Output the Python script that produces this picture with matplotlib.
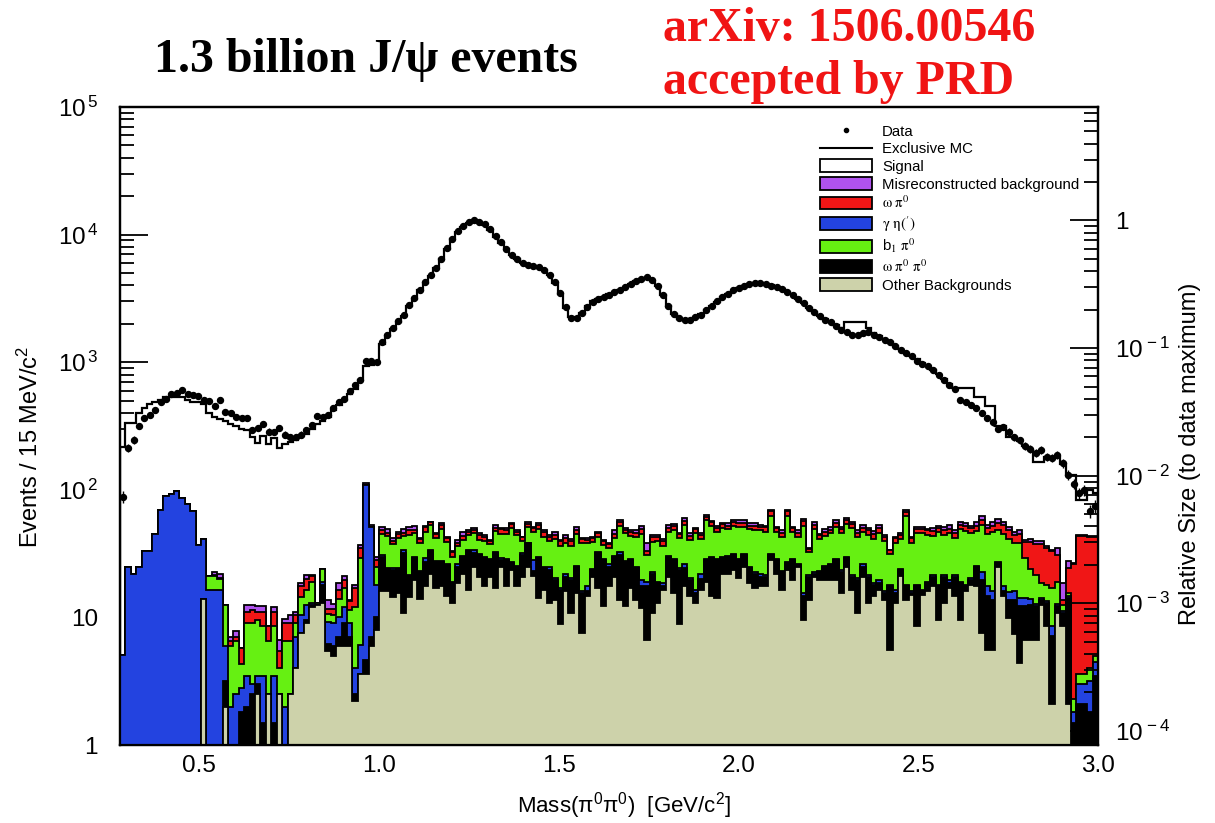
import numpy as np
import matplotlib.pyplot as plt
from matplotlib.patches import Patch
from matplotlib.lines import Line2D
from matplotlib.ticker import FixedLocator, FixedFormatter, MultipleLocator, NullFormatter

plt.rcParams['font.family'] = ['Liberation Sans', 'DejaVu Sans']
plt.rcParams['mathtext.fontset'] = 'stix'

# 15 MeV bins over the pi0 pi0 mass range
n_bins = 181
edges = np.linspace(0.28, 3.0, n_bins + 1)
centers = 0.5 * (edges[1:] + edges[:-1])

data = np.array([
    88, 214, 246, 317, 367, 388, 425, 491, 515, 565,
    578, 607, 565, 556, 546, 510, 500, 457, 510, 410,
    400, 373, 367, 367, 296, 307, 330, 286, 285, 307,
    270, 260, 260, 270, 296, 324, 376, 373, 388, 439,
    491, 515, 598, 665, 730, 1015, 1030, 1000, 1450, 1640,
    1860, 2090, 2350, 2820, 3200, 3700, 4270, 4800, 5500, 6480,
    7800, 9300, 10600, 11600, 12500, 12900, 12500, 12000, 11000, 9700,
    8700, 7770, 6950, 6450, 6000, 5820, 5710, 5540, 5310, 4850,
    4230, 3490, 2700, 2210, 2210, 2430, 2700, 2950, 3130, 3240,
    3390, 3540, 3710, 3890, 4130, 4300, 4490, 4660, 4370, 3980,
    3390, 2770, 2400, 2210, 2130, 2150, 2260, 2360, 2550, 2770,
    3000, 3240, 3440, 3660, 3810, 3980, 4130, 4170, 4170, 4070,
    3980, 3890, 3750, 3540, 3390, 3130, 2910, 2660, 2460, 2290,
    2150, 2050, 1930, 1800, 1710, 1640, 1640, 1690, 1710, 1640,
    1580, 1500, 1430, 1330, 1250, 1180, 1110, 1030, 973, 927,
    863, 800, 730, 667, 617, 508, 484, 464, 437, 398,
    364, 337, 299, 310, 286, 259, 244, 221, 209, 196,
    206, 182, 178, 188, 162, 131, 112, 94, 100, 68,
    75])

mc_total = np.array([
    215, 335, 335, 400, 440, 473, 490, 510, 530, 530,
    530, 530, 510, 490, 490, 470, 400, 370, 360, 345,
    330, 315, 300, 296, 260, 234, 263, 228, 256, 214,
    228, 239, 245, 263, 275, 300, 330, 344, 370, 420,
    460, 510, 560, 620, 720, 930, 950, 990, 1400, 1600,
    1820, 2050, 2300, 2750, 3150, 3650, 4200, 4750, 5450, 6400,
    7700, 9200, 10500, 11500, 12400, 12800, 12500, 11900, 10900, 9600,
    8600, 7700, 6900, 6400, 6000, 5800, 5650, 5500, 5250, 4800,
    4150, 3400, 2650, 2250, 2250, 2450, 2750, 3000, 3150, 3250,
    3400, 3550, 3700, 3900, 4100, 4300, 4500, 4600, 4350, 3950,
    3350, 2750, 2380, 2200, 2150, 2150, 2250, 2380, 2550, 2750,
    2980, 3220, 3420, 3620, 3800, 3950, 4100, 4150, 4150, 4100,
    4000, 3900, 3750, 3550, 3400, 3150, 2930, 2680, 2480, 2300,
    2170, 2070, 1950, 1850, 2050, 2050, 2050, 2050, 1850, 1700,
    1600, 1520, 1440, 1350, 1270, 1190, 1120, 1050, 985, 940,
    875, 810, 740, 675, 625, 627, 627, 627, 537, 537,
    450, 450, 315, 315, 258, 258, 240, 220, 205, 166,
    166, 180, 178, 180, 160, 131, 131, 83, 83, 100,
    95])

# background components per bin: other, omega pi0 pi0, gamma eta('), b1 pi0, omega pi0, misreconstructed
bkg_rows = [
    (0, 0, 5.1, 0, 0, 0), (0, 0, 25, 0, 0, 0), (0, 0, 22, 0, 0, 0), (0, 0, 25, 0, 0, 0),
    (0, 0, 33, 0, 0, 0), (0, 0, 33, 0, 0, 0), (0, 0, 45, 0, 0, 0), (0, 0, 70, 0, 0, 0),
    (0, 0, 89, 0, 0, 0), (0, 0, 92, 0, 0, 0), (0, 0, 98, 0, 0, 0), (0, 0, 86, 0, 0, 0),
    (0, 0, 77, 0, 0, 0), (0, 0, 68, 0, 0, 0), (0, 0, 37, 0, 0, 0), (14, 0, 27, 0, 0, 0),
    (0, 0, 16.5, 4.5, 0, 0), (0, 0, 16.5, 4.5, 0.5, 1), (0, 0, 16.5, 3.5, 0.5, 1.5),
    (2, 1.2, 2.8, 6.4, 0, 0), (0, 1, 1, 4, 0.5, 0.5), (0, 0.5, 2, 4, 0.5, 0.8),
    (0.3, 1.5, 1, 1.5, 1.5, 0), (0, 2, 1.5, 5.5, 2, 1.4), (0, 2.5, 0.5, 6, 2.5, 1),
    (2.5, 0.5, 0.5, 6, 1.5, 1.2), (0, 1.5, 2, 5, 2.5, 1.2), (2.5, 0, 0, 4, 2, 0),
    (0.5, 1, 2, 5, 2.5, 1), (2.5, 0, 0, 1.5, 1.5, 1.2), (0, 1, 1, 4.5, 2.5, 0.8),
    (2.5, 0, 0, 4, 2.5, 1.5), (4, 0, 3, 2, 1.5, 0.5), (7.5, 0, 3, 4, 3, 1),
    (9, 0.5, 3, 4, 3.5, 1.5), (12, 0.5, 0.5, 6, 2, 0.5), (12.5, 0, 0, 0.5, 0, 0),
    (13, 5, 1, 4.8, 0, 0), (5.5, 0.7, 3, 1.5, 1, 2), (5, 1, 3, 1.5, 1.2, 1),
    (6, 1, 3, 4, 2.5, 2), (6, 3, 3, 5, 2.5, 1.5), (6, 1, 2, 2.5, 2, 0.2),
    (2.2, 0.3, 1.5, 8, 5, 1), (3.6, 0, 2.5, 23, 6, 2), (3.6, 1, 105, 0, 0, 3),
    (6, 1, 44, 0, 0, 2), (8, 2, 8, 7, 3, 2),
    (16, 14, 1, 14, 3, 3), (16, 8, 0.5, 19, 2.5, 3), (14.5, 9, 1, 13, 2, 2.5),
    (15.5, 8.5, 0.5, 17.5, 3, 2), (10.8, 21.2, 1.5, 10, 2, 3.5), (14.5, 6.5, 0.5, 23, 3.5, 3),
    (19.5, 9.5, 1, 16, 2, 4), (14, 8.5, 0.5, 15, 3, 1), (17.5, 9.5, 2, 18, 4, 1),
    (22, 11, 0.5, 19.5, 2.5, 0.5), (17, 10, 0.5, 14.5, 3, 1), (17.5, 9.5, 0.5, 22, 3.5, 2),
    (14.6, 11.1, 0.5, 12.8, 3, 1), (12.9, 5.7, 0.5, 10.9, 2.5, 0.5), (18.6, 6.4, 1, 10, 2.5, 2),
    (22, 8, 0.5, 10, 3, 3.5), (16.5, 16.5, 0.5, 11, 2.5, 1), (25, 7, 2, 11.5, 3, 1.5),
    (20.8, 10.2, 0.5, 9, 3.5, 2), (17.5, 11.5, 0.5, 10.5, 3, 1), (20.8, 7.2, 0.5, 9, 2.5, 0.5),
    (17, 15, 0.5, 15, 3, 2.5), (25, 3, 1, 16, 4, 1), (17.5, 10.5, 0.5, 16.5, 3, 2),
    (23.5, 3, 0.5, 23, 3.5, 1.5), (17.5, 7.5, 0.5, 19, 2.5, 1), (20.8, 10.2, 1, 8, 2.5, 0.5),
    (25, 13, 0.5, 12.5, 3, 2), (21, 2, 5, 19, 3, 1), (14.2, 14.8, 0.5, 20, 3.5, 2),
    (16.5, 7.7, 0.5, 18.3, 4, 1), (12.9, 10.6, 1.5, 14.5, 3, 1.5), (13.7, 6, 0.5, 20.8, 3.5, 2.5),
    (8.9, 7.6, 0.5, 19.5, 3, 1), (16, 4.8, 1, 16.2, 4, 2), (10.8, 8.9, 0.5, 16.3, 3.5, 1),
    (15.5, 9.5, 0.5, 19.5, 3, 3), (7.5, 8, 0.5, 22, 3, 1), (14.6, 1.4, 1.5, 20.5, 2.5, 1.5),
    (20.8, 2.7, 0.5, 15, 3, 1), (17, 15, 0.5, 10.5, 2.5, 1.5), (12.2, 15.8, 0.5, 8.5, 3, 0.5),
    (17.5, 7.5, 1, 9, 2.5, 0.5), (20.8, 9.2, 0.5, 11.5, 3, 3), (13.7, 17.3, 1.5, 20, 3.5, 2),
    (12.2, 15.1, 0.5, 17.7, 3, 1.5), (17, 11, 0.5, 15, 3.5, 1), (13.7, 10.5, 0.5, 18.3, 3, 2),
    (11.9, 5.6, 2, 25.5, 4, 3), (6.7, 10.8, 1.5, 12, 2, 5), (10.8, 11.2, 0.5, 16.5, 3.5, 1.5),
    (12.9, 5.7, 0.5, 20.9, 3, 1), (16.5, 1, 1, 18, 3, 1.5), (20.8, 9.2, 0.5, 16.5, 3, 3),
    (15.5, 12.5, 0.5, 19.5, 4, 2), (8.9, 14.6, 1, 17.5, 3, 1), (17.5, 6.7, 2, 26.8, 4, 3),
    (14.6, 5.1, 0.5, 20.3, 3, 2.5), (12.9, 2.6, 1, 29, 3.5, 1), (16.5, 3.5, 2, 19.5, 3, 1.5),
    (19.1, 8.9, 0.5, 29, 4, 2.5), (14.6, 14.7, 0.5, 22.7, 3.5, 1), (14.2, 13.8, 0.5, 18.5, 3, 2),
    (22, 7.3, 0.5, 20.7, 3.5, 1), (22, 8, 0.5, 19, 3, 2.5), (23.5, 7.5, 0.5, 21, 3.5, 2),
    (20.2, 7.8, 0.5, 22.5, 4, 3), (25, 6, 0.5, 20, 3, 3.5), (18.6, 5.6, 0.5, 24.3, 3.5, 2.5),
    (17, 5, 0.5, 25.5, 4, 3), (17.5, 3.3, 1, 26.2, 3, 2), (17.5, 3.3, 0.5, 25.7, 4, 1),
    (28, 3, 0.5, 30.5, 6, 2), (22, 6, 0.5, 18.5, 3, 1), (16.5, 6.2, 0.5, 19.8, 3, 2),
    (23.5, 3, 0.5, 35.5, 6, 1.5), (19.7, 8.3, 0.5, 18.5, 3, 1), (25, 0.7, 0.5, 16.8, 2.5, 2.5),
    (9.6, 5, 1, 36.9, 4, 2.5), (13.7, 7.1, 0.5, 11.2, 2, 0.5), (20.8, 1.2, 0.5, 26.5, 4, 3),
    (19.7, 3, 0.5, 17.8, 3, 1), (19.7, 5.3, 0.5, 18, 3.5, 2), (19.7, 6, 0.5, 19.3, 3, 2.5),
    (19.7, 8.3, 0.5, 22.5, 4, 3), (15.5, 7.2, 1, 22.3, 3.5, 1.5), (25, 4.3, 0.5, 24.2, 4, 2),
    (16.5, 4.3, 0.5, 29.2, 3, 2.5), (10.8, 8.9, 0.5, 22.3, 3.5, 2), (20.8, 4.2, 1, 21, 3, 3),
    (12.9, 7.9, 0.5, 23.2, 4, 1.5), (14.6, 3.4, 0.5, 23, 3.5, 2.5), (16.5, 2.1, 1, 26.4, 4, 3),
    (13.7, 1.8, 0.5, 23.5, 3, 1.5), (5.6, 11.9, 0.5, 13.5, 2, 0.5), (13, 2.5, 1, 22, 3.5, 1),
    (21, 2.5, 0.5, 17, 3, 2), (13.7, 3.8, 0.5, 44, 5, 3), (15, 0.5, 0.5, 22, 4, 1),
    (8.5, 9, 0.5, 27.5, 3.5, 2), (15, 1, 0.5, 29, 4, 1.5), (16, 2.6, 0.5, 25.4, 3.5, 1),
    (17.5, 3.3, 0.5, 22.2, 4, 2.5), (9.6, 7.9, 0.5, 29, 3, 2), (12.9, 7.9, 0.5, 22.7, 4, 3),
    (17, 1.6, 1, 26.4, 3.5, 3.5), (14.6, 6.2, 0.5, 20.7, 4, 2), (9.6, 9, 0.5, 29.9, 4, 3),
    (16, 1.5, 0.5, 29.5, 4.5, 3), (18, 1.7, 0.5, 25.8, 4, 2), (17.5, 7.5, 0.5, 22, 5, 3.5),
    (7.5, 12.2, 3, 30.3, 5, 4), (5.6, 9, 3, 27.4, 5, 3), (5.6, 8.1, 2.5, 30.3, 6, 3.5),
    (25, 1.5, 0.5, 21, 7, 4), (14.6, 1.4, 1.5, 27.5, 8, 3), (9.9, 3.8, 2, 25.3, 7, 3),
    (7.4, 6.3, 2.5, 21.8, 6, 3), (4.4, 7.8, 2, 23.8, 7, 3), (6.7, 5.5, 2, 14.8, 10, 1.5),
    (6.7, 5.8, 1.5, 10, 15, 2), (6.7, 5.5, 0.5, 8.8, 16, 2.5), (12.5, 1.2, 0.5, 4.3, 19, 2),
    (8.5, 4.4, 0.5, 4.6, 17, 1), (2.1, 5, 1.5, 8.4, 16, 1), (10.8, 1.4, 0.5, 6.3, 12, 4),
    (8.5, 2.3, 0.5, 1.3, 1, 5), (2.1, 12, 0.5, 1, 9, 3), (0, 1.5, 0.3, 0.5, 24, 0.3),
    (0, 2.1, 0.9, 0.6, 40, 0.4), (0, 2.1, 0.9, 0.6, 40, 0.6), (0, 1.8, 1.4, 0.8, 39, 0.5),
    (0, 3.5, 1, 0.5, 38, 0.5),
]
bkg = np.array(bkg_rows, dtype=float).T
other, omega_pi0pi0, gamma_eta, b1_pi0, omega_pi0, misrec = bkg

bkg_labels = ['Other Backgrounds', r'$\mathrm{\omega\ \pi^{0}\ \pi^{0}}$', r"$\mathrm{\gamma\ \eta(')}$",
              r'b$_{1}$ $\mathrm{\pi^{0}}$', r'$\mathrm{\omega\ \pi^{0}}$', 'Misreconstructed background']
bkg_colors = ['#cdd2aa', '#000000', '#2343e0', '#66f012', '#f01616', '#b052ee']

W, H = 1215, 823
fig = plt.figure(figsize=(W / 100, H / 100), dpi=100)
ax = fig.add_axes([120 / W, 1 - 745 / H, (1098 - 120) / W, (745 - 107) / H])

ax.set_yscale('log')
ax.set_xlim(0.28, 3.0)
ax.set_ylim(1, 1e5)

floor = 0.05
# signal + backgrounds: total exclusive MC drawn as the white top layer
ax.stairs(np.maximum(mc_total, floor), edges, baseline=floor, fill=True,
          facecolor='white', edgecolor='black', lw=1.6, zorder=2)
cum = np.cumsum(bkg, axis=0)
for k in range(len(bkg) - 1, -1, -1):
    ax.stairs(np.maximum(cum[k], floor), edges, baseline=floor, fill=True,
              facecolor=bkg_colors[k], edgecolor='black', lw=1.3, zorder=3)

ax.errorbar(centers, data, yerr=np.sqrt(data), fmt='o', color='black', ms=4.3,
            elinewidth=1, capsize=0, zorder=5)

# axes styling
for s in ax.spines.values():
    s.set_linewidth(1.6)
ax.yaxis.set_major_locator(FixedLocator([1, 10, 1e2, 1e3, 1e4, 1e5]))
ax.yaxis.set_major_formatter(FixedFormatter(['1', '10', r'$\mathregular{10^{\,2}}$',
                                             r'$\mathregular{10^{\,3}}$', r'$\mathregular{10^{\,4}}$',
                                             r'$\mathregular{10^{\,5}}$']))
minor_y = [m * 10 ** d for d in range(0, 5) for m in range(2, 10)]
ax.yaxis.set_minor_locator(FixedLocator(minor_y))
ax.yaxis.set_minor_formatter(NullFormatter())
ax.xaxis.set_major_locator(FixedLocator([0.5, 1.0, 1.5, 2.0, 2.5, 3.0]))
ax.xaxis.set_major_formatter(FixedFormatter(['0.5', '1.0', '1.5', '2.0', '2.5', '3.0']))
ax.xaxis.set_minor_locator(MultipleLocator(0.1))
ax.tick_params(which='both', direction='in', top=False, right=False, labelsize=17.5, width=1.3)
ax.tick_params(axis='y', which='major', length=20, pad=16)
ax.tick_params(axis='y', which='minor', length=10)
ax.tick_params(axis='x', which='major', length=13, pad=7)
ax.tick_params(axis='x', which='minor', length=7)

ax.set_ylabel(r'Events / 15 MeV/c$\mathregular{^{2}}$', fontsize=17)
ax.yaxis.set_label_coords(-0.079, 0.467)
ax.set_xlabel(r'Mass($\mathregular{\pi^{0}\pi^{0}}$)  [GeV/c$\mathregular{^{2}}$]', fontsize=16)
ax.xaxis.set_label_coords(0.515, -0.07)

# secondary scale relative to the data maximum
dmax = data.max()
ax2 = ax.twinx()
ax2.set_yscale('log')
ax2.set_ylim(1 / dmax, 1e5 / dmax)
ax2.yaxis.set_major_locator(FixedLocator([1e-4, 1e-3, 1e-2, 1e-1, 1]))
ax2.yaxis.set_major_formatter(FixedFormatter([r'$\mathregular{10^{\,-4}}$', r'$\mathregular{10^{\,-3}}$',
                                              r'$\mathregular{10^{\,-2}}$', r'$\mathregular{10^{\,-1}}$', '1']))
minor_r = [m * 10.0 ** d for d in range(-5, 1) for m in range(2, 10)]
ax2.yaxis.set_minor_locator(FixedLocator(minor_r))
ax2.yaxis.set_minor_formatter(NullFormatter())
ax2.tick_params(which='both', direction='in', labelsize=17.5, width=1.3)
ax2.tick_params(which='major', length=20, pad=12)
ax2.tick_params(which='minor', length=10)
ax2.set_ylabel('Relative Size (to data maximum)', fontsize=17)
ax2.yaxis.set_label_coords(1.083, 0.456)
for s in ax2.spines.values():
    s.set_linewidth(1.6)

handles = [
    Line2D([], [], marker='o', ms=3, color='black', ls='none'),
    Line2D([], [], color='black', lw=1.5),
    Patch(facecolor='white', edgecolor='black', lw=1.3),
]
labels = ['Data', 'Exclusive MC', 'Signal']
# legend order: misreconstructed, omega pi0, gamma eta, b1 pi0, omega pi0 pi0, other
for k in [5, 4, 2, 3, 1, 0]:
    handles.append(Patch(facecolor=bkg_colors[k], edgecolor='black', lw=1.3))
    labels.append(bkg_labels[k])
ax.legend(handles, labels, loc='upper left', bbox_to_anchor=(0.708, 0.985), frameon=False,
          fontsize=10.8, handlelength=3.5, handleheight=0.95, labelspacing=0.2,
          handletextpad=0.65, borderpad=0)

fig.text(366 / W, 1 - 60 / H, r'1.3 billion J/ψ events', family=['Liberation Serif', 'DejaVu Serif'],
         weight='bold', fontsize=34.5, ha='center', va='center')
fig.text(663 / W, 1 - 29 / H, 'arXiv: 1506.00546', family=['Liberation Serif', 'DejaVu Serif'],
         weight='bold', fontsize=34.5, color='#f01414', ha='left', va='center')
fig.text(663 / W, 1 - 82 / H, 'accepted by PRD', family=['Liberation Serif', 'DejaVu Serif'],
         weight='bold', fontsize=34.5, color='#f01414', ha='left', va='center')

fig.savefig('out.png', dpi=100)
